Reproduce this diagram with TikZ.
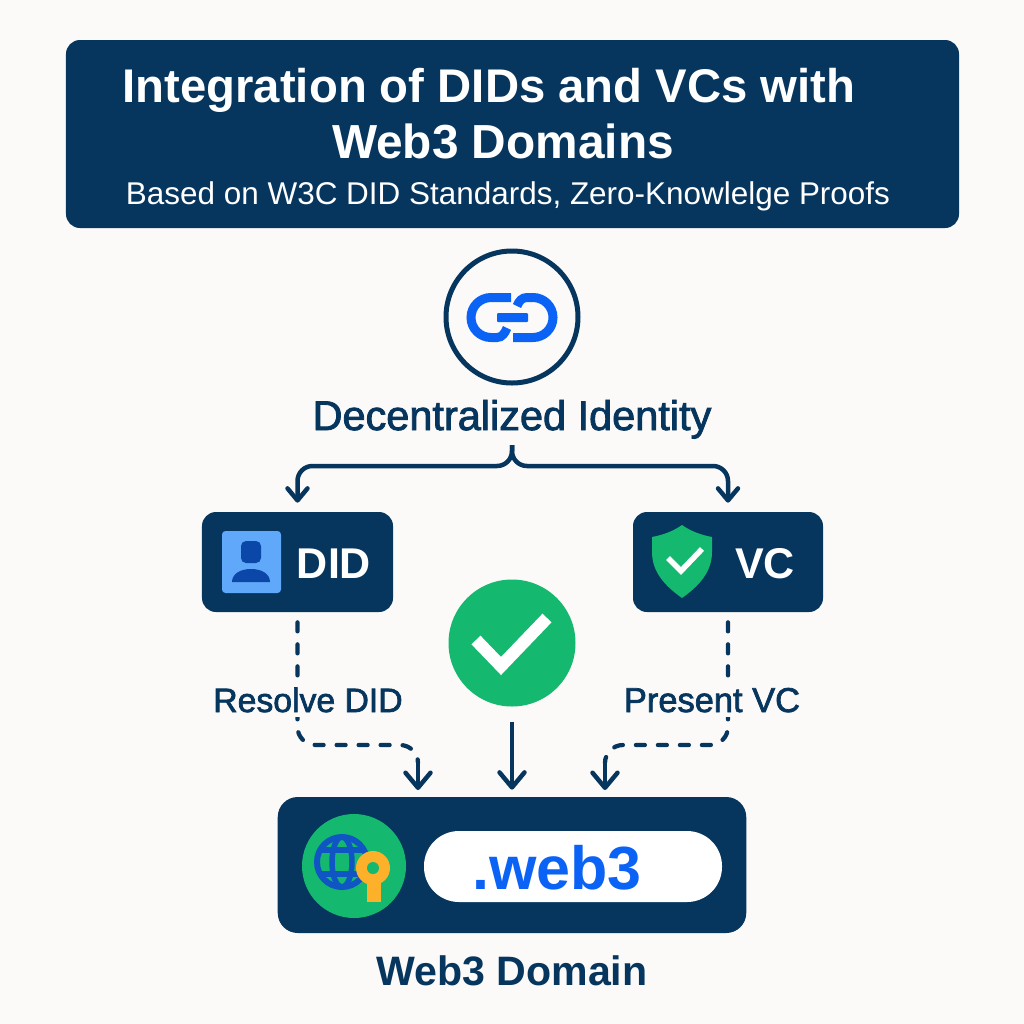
\documentclass[tikz,border=0pt]{standalone}
\usepackage{fontspec}
\setmainfont{Liberation Sans}
\newfontfamily\medfont[FakeBold=2]{Liberation Sans}
\usetikzlibrary{arrows.meta}

\definecolor{paper}{HTML}{FBFAF8}
\definecolor{navy}{HTML}{06355E}
\definecolor{linkblue}{HTML}{0B63F6}
\definecolor{okgreen}{HTML}{14B86E}
\definecolor{skyblue}{HTML}{60A9FA}
\definecolor{deepblue}{HTML}{0B47A8}
\definecolor{globeblue}{HTML}{0F56C4}
\definecolor{keygold}{HTML}{FDB02A}

\tikzset{
    panel/.style={fill=navy, rounded corners=2.8mm, inner sep=0pt},
    tag/.style={anchor=base, inner sep=0pt, text=navy},
    arrow/.style={draw=navy, line width=0.9mm, -{Straight Barb[length=3mm,width=5mm,round]}},
    dashline/.style={draw=navy, line width=0.85mm, line cap=round, dash pattern=on 1.8mm off 2.6mm, rounded corners=3.6mm},
}

\begin{document}
\begin{tikzpicture}[x=0.2mm,y=-0.2mm]
\path[use as bounding box, fill=paper] (0,0) rectangle (1024,1024);

\node (header) at (512.5,134) [panel, minimum width=178.6mm, minimum height=37.6mm] {};
\node (title1) at (489,102) [tag, text=white, font=\fontsize{26.9}{30}\selectfont\bfseries] {Integration of DIDs and VCs with};
\node (title2) at (503,158) [tag, text=white, font=\fontsize{27.2}{30}\selectfont\bfseries] {Web3 Domains};
\node (subtitle) at (508,204) [tag, text=white, font=\fontsize{17.9}{20}\selectfont] {Based on W3C DID Standards, Zero-Knowlelge Proofs};

\node (chain) at (512,317) [circle, draw=navy, line width=1mm, minimum size=26.4mm, inner sep=0pt] {};
\draw[linkblue, line width=1.8mm] (511,297.5) -- (491,297.5) arc[start angle=270, end angle=90, radius=20] -- (497,337.5) .. controls (502,337.5) and (505,333) .. (507,328);
\draw[linkblue, line width=1.8mm] (513,337.5) -- (533,337.5) arc[start angle=90, end angle=-90, radius=20] -- (527,297.5) .. controls (522,297.5) and (519,301) .. (517,306);
\fill[linkblue, rounded corners=0.2mm] (497,313) rectangle (528,322);
\node (identity) at (512,430) [tag, font=\fontsize{23.6}{26}\selectfont\medfont] {Decentralized Identity};
\coordinate (fork) at (512,445);
\coordinate (bar) at (512,466);

\node (did) at (297.5,562) [panel, minimum width=38.2mm, minimum height=20mm] {};
\node (vc) at (728,562) [panel, minimum width=38mm, minimum height=20mm] {};
\draw[arrow, -{Straight Barb[length=2.4mm,width=4mm,round]}, rounded corners=3mm, shorten >=1.8mm] (fork) -- (bar) -| (did.north);
\draw[arrow, -{Straight Barb[length=2.4mm,width=4mm,round]}, rounded corners=3mm, shorten >=1.8mm] (fork) -- (bar) -| (vc.north);

\fill[skyblue, rounded corners=0.7mm] (222,531) rectangle (281,593);
\fill[deepblue, rounded corners=1mm] (241,541) rectangle (261,563);
\fill[deepblue] (232,582) .. controls (232,574) and (240,569) .. (251,569) .. controls (262,569) and (270,574) .. (270,582) -- cycle;
\node (didtext) at (334,578) [tag, text=white, font=\fontsize{24.5}{28}\selectfont\bfseries] {DID};

\fill[okgreen] (682,525) .. controls (672,532) and (662,535) .. (652,537) -- (652,552) .. controls (652,572) and (665,586) .. (682,598) .. controls (699,586) and (712,572) .. (712,552) -- (712,537) .. controls (702,535) and (692,532) .. (682,525) -- cycle;
\draw[white, line width=1.1mm] (668,558) -- (681,571) -- (702,549);
\node (vctext) at (765,578) [tag, text=white, font=\fontsize{24.5}{28}\selectfont\bfseries] {VC};

\node (check) at (512,643) [circle, fill=okgreen, minimum size=25.4mm, inner sep=0pt] {};
\draw[white, line width=2.5mm] (476,640) -- (501,666) -- (547,618);

\node (web3) at (512,865) [panel, rounded corners=4mm, minimum width=93.7mm, minimum height=27.2mm] {};
\coordinate (lane) at (512,745);
\coordinate (dropD) at (418,797);
\coordinate (turnD) at (418,762);
\coordinate (dropV) at (605,797);
\coordinate (turnV) at (605,762);

\draw[dashline, shorten <=2mm] (did.south) |- (dropD |- lane) -- (turnD);
\draw[dashline, shorten <=2mm] (vc.south) |- (dropV |- lane) -- (turnV);
\draw[arrow, shorten >=1.4mm] (turnD) -- (dropD);
\draw[arrow, shorten >=1.4mm] (turnV) -- (dropV);
\draw[arrow, shorten <=3mm, shorten >=1.4mm] (check.south) -- (web3.north);

\node (resolve) at (308,712) [tag, fill=paper, inner sep=1mm, font=\fontsize{19.2}{22}\selectfont\medfont] {Resolve DID};
\node (present) at (712,712) [tag, fill=paper, inner sep=1mm, font=\fontsize{19.6}{22}\selectfont\medfont] {Present VC};

\node (seal) at (354,866) [circle, fill=okgreen, minimum size=20.8mm, inner sep=0pt] {};
\draw[globeblue, line width=1.2mm] (342,862) circle[radius=25];
\draw[globeblue, line width=1.1mm] (342,862) ellipse[x radius=10, y radius=25];
\draw[globeblue, line width=1.1mm] (320,850) -- (364,850) (320,874) -- (364,874);
\fill[keygold] (373,868) circle[radius=17];
\fill[keygold] (367,875) rectangle (381,902);
\fill[okgreen] (373,868) circle[radius=6];

\node (pill) at (573,866.5) [fill=white, rounded corners=7mm, minimum width=59.6mm, minimum height=14.2mm, inner sep=0pt] {};
\node (tld) at (557,889) [tag, text=linkblue, font=\fontsize{34.7}{40}\selectfont\bfseries] {.web3};
\node (caption) at (512,985) [tag, font=\fontsize{23.4}{28}\selectfont\bfseries] {Web3 Domain};
\end{tikzpicture}
\end{document}
